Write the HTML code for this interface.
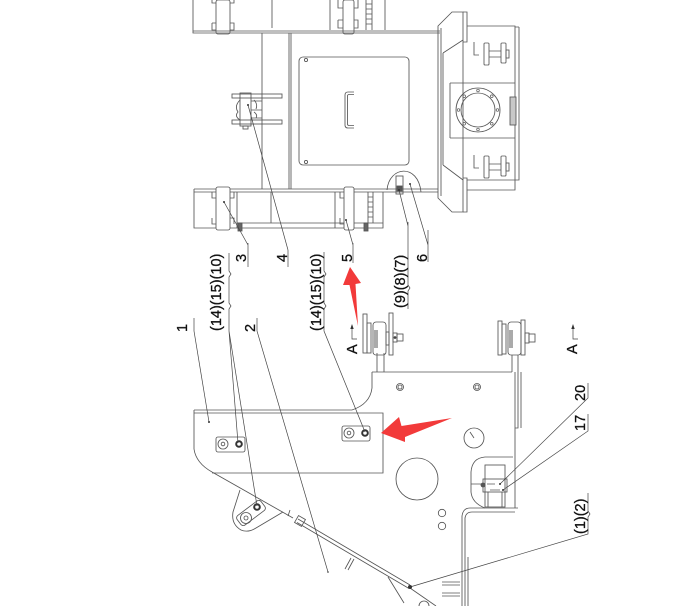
<!DOCTYPE html>
<html><head><meta charset="utf-8"><style>
html,body{margin:0;padding:0;background:#fff;}
svg{display:block;}
text{font-family:"Liberation Sans",Arial,sans-serif;font-size:14.5px;fill:#111;stroke:#111;stroke-width:0.3px;}
</style></head><body>
<svg width="688" height="606" viewBox="0 0 688 606" xmlns="http://www.w3.org/2000/svg">
<rect width="688" height="606" fill="#fff"/>
<g fill="none" stroke="#555" stroke-width="0.85">
<!-- TOP FRAME BAND -->
<path d="M193,0 L193,33 L440,33 M193,31 L440,31"/>
<path d="M272,0 L272,28"/>
<rect x="216" y="0" width="14" height="34" rx="2"/>
<path d="M212,0 L212,3 L216,3 M212,23 L216,23 M212,23 L212,30 L216,30 M230,3 L234,3 L234,0 M230,23 L234,23 L234,30 L230,30"/>
<rect x="343" y="0" width="11" height="34" rx="2"/>
<path d="M338,0 L338,8 L343,8 M338,20 L343,20 M338,20 L338,28 L343,28 M354,8 L358,8 L358,0 M354,20 L358,20 L358,28 L354,28"/>
<path d="M366,0 L366,30 M372,0 L372,30 M366,4 L372,4 M366,9 L372,9 M366,14 L372,14 M366,19 L372,19 M366,24 L372,24"/>
<path d="M330,0 L330,30 M385,0 L385,30"/>
<!-- connecting verticals -->
<path d="M262,33 L262,189 M289,33 L289,189 M291,33 L291,189"/>
<!-- inner panel -->
<rect x="299" y="57" width="110" height="108" rx="4"/>
<circle cx="306" cy="60" r="1.6"/>
<circle cx="306" cy="162" r="1.6"/>
<path d="M354,92 L348,92 Q345,92 345,95 L345,125 Q345,128 348,128 L354,128 M354,94.5 L349,94.5 Q347.5,94.5 347.5,96 L347.5,124 Q347.5,125.5 349,125.5 L354,125.5"/>
<!-- hinge item 4 -->
<rect x="232" y="94" width="50" height="4"/>
<rect x="232" y="120" width="50" height="4"/>
<rect x="240" y="93" width="11" height="33"/>
<path d="M240,100 Q234,106 238,112 Q234,116 240,120 M251,101 L262,101 M251,110 L262,110 M251,118 L262,118 M254,100 Q258,104 256,109 M254,112 Q258,115 256,118"/>
<rect x="243" y="126" width="5" height="3"/>
<!-- right assembly -->
<path d="M438,26 L452,12 L463,12 L463,212 L452,212 L438,198 Z"/>
<path d="M441,28 L441,196 M443,53 L443,165 M443,53 L463,40 M443,165 L463,180"/>
<path d="M463,12 L467,12 L467,42 L463,42 M463,178 L467,178 L467,212 L463,212"/>
<path d="M467,26 L515,26 L515,190 L467,190 M467,180 L515,180 M519,27 L519,180 L515,180 M515,27 L519,27"/>
<path d="M450,83 L515,83 M450,138 L515,138 M450,83 L450,138"/>
<circle cx="478" cy="110" r="22"/>
<circle cx="478" cy="110" r="17"/>
<g stroke-width="0.7">
<circle cx="497.5" cy="110" r="1.3"/><circle cx="458.5" cy="110" r="1.3"/>
<circle cx="478" cy="90.5" r="1.3"/><circle cx="478" cy="129.5" r="1.3"/>
<circle cx="491.8" cy="96.2" r="1.3"/><circle cx="464.2" cy="96.2" r="1.3"/>
<circle cx="491.8" cy="123.8" r="1.3"/><circle cx="464.2" cy="123.8" r="1.3"/>
</g>
<rect x="510" y="97" width="6" height="28" fill="#c8c8c8"/>
<!-- valves -->
<path d="M474,42 L474,55 L479,55"/>
<rect x="484" y="43" width="5" height="22" rx="1"/>
<path d="M489,51 L501,51 M489,57 L501,57"/>
<rect x="501" y="43" width="5" height="20" rx="1"/>
<rect x="506" y="50" width="3" height="8"/>
<path d="M474,155 L474,168 L479,168"/>
<rect x="484" y="156" width="5" height="22" rx="1"/>
<path d="M489,164 L501,164 M489,170 L501,170"/>
<rect x="501" y="156" width="5" height="20" rx="1"/>
<rect x="506" y="163" width="3" height="8"/>
<!-- BOTTOM FRAME BAND -->
<path d="M194,189 L438,189 M194,192 L438,192 M194,189 L194,228 L383,228 L383,192"/>
<path d="M237,223 L383,223 M237,192 L237,228 M271,192 L271,223 M335,192 L335,228"/>
<rect x="216" y="187" width="14" height="43" rx="2" fill="#fff"/>
<path d="M212,192 L212,198 L216,198 M212,218 L212,224 L216,224 M230,198 L234,198 L234,192 M230,218 L234,218 L234,224"/>
<rect x="344" y="187" width="10" height="43" rx="2" fill="#fff"/>
<path d="M340,192 L340,198 L344,198 M340,218 L340,224 L344,224"/>
<path d="M368,192 L368,223 M373,192 L373,223 M368,197 L373,197 M368,202 L373,202 M368,207 L373,207 M368,212 L373,212 M368,217 L373,217"/>
<rect x="238" y="223" width="4" height="8" fill="#666"/>
<rect x="364" y="223" width="4" height="8" fill="#666"/>
<path d="M387,190 C389,166 418,163 421,192"/>
<rect x="396" y="176" width="7" height="18"/>
<rect x="397" y="186" width="5" height="5" fill="#555"/>
<!-- LOWER: plate 1 -->
<path d="M194,410 L352,410 M194,413 L383,413 L383,473 L212,473"/>
<path d="M194,410 L194,449 Q196,463 212,472"/>
<path d="M212,472 L293,518"/>
<path d="M240,490 L233,512 Q231,524 241,530 Q248,533 256,528 L283,512 M290,510 L288,516"/>
<rect x="236" y="507" width="30" height="12" rx="3" transform="rotate(-37 251 513)"/>
<circle cx="246" cy="518" r="5.5"/><circle cx="246" cy="518" r="2"/>
<circle cx="257" cy="507" r="2.8" stroke-width="2" stroke="#333"/>
<rect x="216" y="437" width="29" height="15" rx="2"/>
<circle cx="223" cy="444" r="5"/><circle cx="223" cy="444" r="1.8"/>
<circle cx="239" cy="444" r="2.8" stroke-width="2" stroke="#333"/>
<rect x="342" y="426" width="28" height="15" rx="2"/>
<circle cx="349" cy="433" r="5"/><circle cx="349" cy="433" r="1.8"/>
<circle cx="365" cy="433" r="2.8" stroke-width="2" stroke="#333"/>
<!-- side plate -->
<path d="M372,372 L372,388 Q370,404 352,410"/>
<path d="M372,372 L512,372"/>
<path d="M377,353 L377,372 M384,353 L384,372"/>
<path d="M512,355 L512,372 M515,372 L515,508 M518,355 L518,428 L515,428 M521,372 L521,428"/>
<path d="M518,508 L470,508 Q463,508 462,516 L462,606 M515,512 L472,512 Q466,512 465,518 L465,606 M468,557 L468,606"/>
<path d="M513,457 L485,457 Q472,458 471,472 L471,492 Q472,503 485,508"/>
<rect x="485" y="465" width="20" height="42"/>
<rect x="483" y="479" width="24" height="13"/>
<path d="M487,484 L495,484 M490,490 L500,490 M488,492 L488,507 M502,492 L502,507 M471,484 L483,484"/>
<circle cx="483" cy="485" r="2" fill="#555"/>
<circle cx="400" cy="387" r="3.5"/><circle cx="400" cy="387" r="2"/>
<circle cx="477" cy="387" r="3.5"/><circle cx="477" cy="387" r="2"/>
<circle cx="474" cy="438" r="10"/>
<path d="M470,432 L474,438"/>
<circle cx="417" cy="479" r="21"/>
<circle cx="442" cy="513" r="3.7"/>
<circle cx="442" cy="526" r="3.7"/>
<!-- rod -->
<path d="M298,519 L410,585 M297,522.5 L409,588.5"/>
<rect x="296" y="517" width="8" height="8" transform="rotate(30 300 521)"/>
<path d="M345,569 L351,558 M348,570 L354,559"/>
<path d="M388,577 L404,603 M410,588 L436,606"/>
<circle cx="424" cy="606" r="5"/>
<path d="M442,582 L460,582 M442,585 L460,585 M442,593 L460,593 M442,596 L460,596"/>
<!-- pulleys -->
<rect x="363" y="314" width="4" height="39"/>
<rect x="367" y="323" width="4" height="30"/>
<rect x="373" y="322" width="13" height="33" rx="3"/>
<rect x="374" y="330" width="4" height="18" fill="#aaa" stroke="none"/>
<rect x="386" y="332" width="3" height="13"/>
<rect x="389" y="313" width="4" height="42"/>
<rect x="393" y="333" width="4" height="9"/>
<rect x="397" y="334" width="6" height="7"/>
<circle cx="395" cy="337.5" r="1" fill="#333"/>
<rect x="498" y="321" width="4" height="34"/>
<rect x="502" y="324" width="4" height="30"/>
<rect x="508" y="322" width="13" height="33" rx="3"/>
<rect x="509" y="330" width="4" height="18" fill="#aaa" stroke="none"/>
<rect x="521" y="320" width="4" height="35"/>
<rect x="525" y="333" width="4" height="10"/>
<rect x="529" y="334" width="6" height="8"/>
</g>
<!-- LEADERS -->
<g fill="none" stroke="#444" stroke-width="0.7">
<path d="M194,318 L194,331 L209,422"/>
<path d="M229,253 L229,271 L231,274 L229,277 L229,303 L231,306 L229,309 L229,331 L238,443 M229,331 L257,506"/>
<path d="M248,243 L248,267 M248,245 L224,202"/>
<path d="M288,250 L288,267 M288,250 L248,105"/>
<path d="M324,252 L324,271 L326,274 L324,277 L324,303 L326,306 L324,309 L324,331 L365,432"/>
<path d="M353,243 L353,263 M353,245 L346,220"/>
<path d="M408,222 L408,285 L410,288 L408,291 L408,309 M408,226 L399,190"/>
<path d="M428,230 L428,262 M428,245 L410,184"/>
<path d="M257,318 L257,331 L328,572"/>
<path d="M588,383 L588,398 L500,484"/>
<path d="M588,414 L588,431 L503,490"/>
<path d="M588,493 L588,511 L590,514 L588,517 L588,534 L410,587"/>
<path d="M352,327 L352,339 L357,339 M573,327 L573,339 L578,339"/>
</g>
<g fill="#333">
<circle cx="209" cy="422" r="1"/><circle cx="224" cy="202" r="1"/><circle cx="248" cy="105" r="1"/>
<circle cx="346" cy="220" r="1"/><circle cx="399" cy="190" r="1"/><circle cx="410" cy="184" r="1"/>
<circle cx="328" cy="572" r="0.8"/><circle cx="500" cy="484" r="1"/><circle cx="503" cy="490" r="1"/>
<circle cx="410" cy="587" r="2"/>
<path d="M352,324 L350.3,329 L353.7,329 Z M573,324 L571.3,329 L574.7,329 Z"/>
</g>
<!-- red arrows -->
<path d="M350,267 L361,283 L355.5,284 L358,326 L349.5,285 L343,285 Z" fill="#f23a3a"/>
<path d="M381,433 L399,417 L401.5,426 L452,418 L405,437 L405,442 Z" fill="#f23a3a"/>
<!-- LABELS -->
<text x="187" y="332" transform="rotate(-90 187 332)">1</text>
<text x="221" y="331" transform="rotate(-90 221 331)">(14)(15)(10)</text>
<text x="246" y="262" transform="rotate(-90 246 262)">3</text>
<text x="287" y="262" transform="rotate(-90 287 262)">4</text>
<text x="321" y="331" transform="rotate(-90 321 331)">(14)(15)(10)</text>
<text x="352" y="262" transform="rotate(-90 352 262)">5</text>
<text x="405" y="308" transform="rotate(-90 405 308)">(9)(8)(7)</text>
<text x="427" y="262" transform="rotate(-90 427 262)">6</text>
<text x="255" y="332" transform="rotate(-90 255 332)">2</text>
<text x="357" y="354" transform="rotate(-90 357 354)">A</text>
<text x="577" y="354" transform="rotate(-90 577 354)">A</text>
<text x="585" y="401" transform="rotate(-90 585 401)">20</text>
<text x="585" y="431" transform="rotate(-90 585 431)">17</text>
<text x="585" y="534" transform="rotate(-90 585 534)">(1)(2)</text>
</svg>
</body></html>
